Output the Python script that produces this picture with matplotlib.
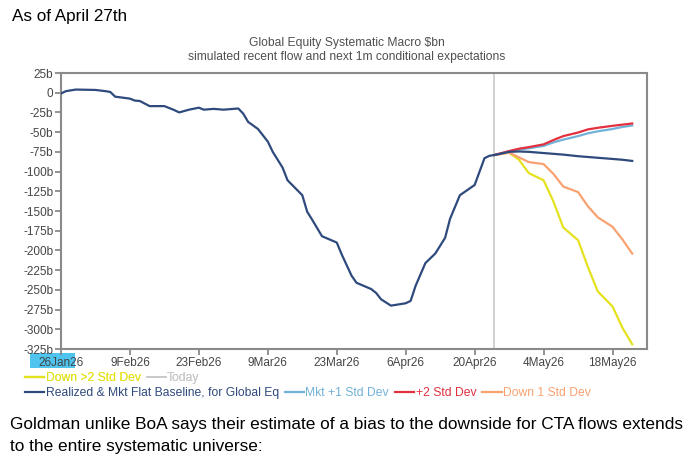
import matplotlib
matplotlib.use('Agg')
import matplotlib.pyplot as plt
from matplotlib.patches import Rectangle
import pandas as pd

plt.rcParams['font.family'] = ['Liberation Sans', 'DejaVu Sans']

# realized flow (Global Eq), $bn
hist_dates = ['2026-01-26', '2026-01-27', '2026-01-29', '2026-02-02', '2026-02-04', '2026-02-05',
              '2026-02-06', '2026-02-09', '2026-02-10', '2026-02-11', '2026-02-13', '2026-02-16',
              '2026-02-18', '2026-02-19', '2026-02-21', '2026-02-23', '2026-02-24', '2026-02-26',
              '2026-02-28', '2026-03-03', '2026-03-04', '2026-03-05', '2026-03-07', '2026-03-09',
              '2026-03-10', '2026-03-11', '2026-03-12', '2026-03-13', '2026-03-16', '2026-03-17',
              '2026-03-18', '2026-03-20', '2026-03-23', '2026-03-24', '2026-03-26', '2026-03-27',
              '2026-03-30', '2026-03-31', '2026-04-01', '2026-04-03', '2026-04-06', '2026-04-07',
              '2026-04-08', '2026-04-10', '2026-04-12', '2026-04-14', '2026-04-15', '2026-04-17',
              '2026-04-20', '2026-04-22', '2026-04-23', '2026-04-24']
hist_vals = [-1, 2, 4, 3.5, 2, 1,
             -5, -7.5, -10, -10.5, -17, -17,
             -22, -25, -21.5, -19, -21.5, -20.5,
             -21.5, -20, -26.5, -37, -46, -62,
             -75, -85, -95, -111, -130, -151,
             -161, -182, -190, -205, -232, -241,
             -249, -254, -262, -270, -267, -264,
             -245, -216, -204, -184, -160, -130,
             -117, -83, -80, -79]

# next 1m conditional expectations
fc_dates = ['2026-04-24', '2026-04-27', '2026-04-29', '2026-05-01', '2026-05-04', '2026-05-06',
            '2026-05-08', '2026-05-11', '2026-05-13', '2026-05-15', '2026-05-18', '2026-05-20',
            '2026-05-22']
baseline = [-79, -75, -74.5, -75, -76.5, -77.5, -78.5, -80.5, -81.5, -82.5, -84, -85, -86.5]
mkt_up1 = [-79, -74.5, -72, -70.5, -67.5, -63, -59.5, -55, -51.5, -49, -46, -43.5, -41.5]
up2 = [-79, -74, -71, -69, -65.5, -60, -55, -50.5, -46.5, -44.5, -42, -40.5, -39]
down1 = [-79, -76, -82, -88, -90.5, -103, -119, -126, -144, -158, -170, -186, -204]
down2 = [-79, -76, -85, -102, -111, -138, -171, -187, -221, -252, -271, -298, -319]

today = '2026-04-24'

xtick_dates = ['2026-01-26', '2026-02-09', '2026-02-23', '2026-03-09', '2026-03-23',
               '2026-04-06', '2026-04-20', '2026-05-04', '2026-05-18']
xtick_labels = ['26Jan26', '9Feb26', '23Feb26', '9Mar26', '23Mar26',
                '6Apr26', '20Apr26', '4May26', '18May26']
ytick_vals = [25, 0, -25, -50, -75, -100, -125, -150, -175, -200, -225, -250, -275, -300, -325]
ytick_labels = ['25b', '0', '-25b', '-50b', '-75b', '-100b', '-125b', '-150b', '-175b',
                '-200b', '-225b', '-250b', '-275b', '-300b', '-325b']

NAVY = '#2f4a7d'
LBLUE = '#72b2d8'
RED = '#e2303f'
ORANGE = '#f9a271'
YELLOW = '#e4e21f'
GREY = '#c9c9c9'

W, H = 697, 459
fig = plt.figure(figsize=(W / 100, H / 100), dpi=100)
ax = fig.add_axes([61 / W, 1 - 349 / H, (647 - 61) / W, (349 - 73) / H])

hd = pd.to_datetime(hist_dates)
fd = pd.to_datetime(fc_dates)

lw = 1.6
l_today = ax.axvline(pd.Timestamp(today), color=GREY, lw=1.2, zorder=1)
l_dn2, = ax.plot(fd, down2, color=YELLOW, lw=lw, zorder=2)
l_dn1, = ax.plot(fd, down1, color=ORANGE, lw=lw, zorder=2)
l_up1, = ax.plot(fd, mkt_up1, color=LBLUE, lw=lw, zorder=3)
l_up2, = ax.plot(fd, up2, color=RED, lw=lw, zorder=4)
l_base, = ax.plot(hd.append(fd[1:]), hist_vals + baseline[1:], color=NAVY, lw=lw, zorder=5)

ax.set_xlim(pd.Timestamp('2026-01-26'), pd.Timestamp('2026-05-25'))
ax.set_ylim(-325, 25)
ax.set_xticks(pd.to_datetime(xtick_dates))
ax.set_xticklabels(xtick_labels)
ax.set_yticks(ytick_vals)
ax.set_yticklabels(ytick_labels)
ax.tick_params(direction='out', length=4, width=1.2, color='#808080',
               labelsize=8.5, labelcolor='#454545', pad=1.5)
for s in ax.spines.values():
    s.set_color('#8a8a8a')
    s.set_linewidth(1.5)

# titles and surrounding text
fig.text(347 / W, 1 - 43 / H, 'Global Equity Systematic Macro $bn', ha='center', va='center',
         fontsize=8.7, color='#505050')
fig.text(347 / W, 1 - 57 / H, 'simulated recent flow and next 1m conditional expectations',
         ha='center', va='center', fontsize=8.7, color='#505050')
fig.text(12 / W, 1 - 17 / H, 'As of April 27th', ha='left', va='center', fontsize=12.3)
fig.text(10 / W, 1 - 425 / H,
         'Goldman unlike BoA says their estimate of a bias to the downside for CTA flows extends',
         ha='left', va='center', fontsize=12.4)
fig.text(10 / W, 1 - 446 / H, 'to the entire systematic universe:', ha='left', va='center',
         fontsize=12.4)

# highlight on the first date label
fig.patches.append(Rectangle((30 / W, 1 - 368 / H), 45 / W, 15 / H, transform=fig.transFigure,
                             facecolor='#4ec4ef', edgecolor='none', zorder=-1))

leg_kw = dict(frameon=False, fontsize=8.7, handlelength=1.6, handletextpad=0.1,
              columnspacing=0.5, borderpad=0, borderaxespad=0, labelcolor='linecolor',
              loc='center left')
leg1 = fig.legend([l_dn2, l_today], ['Down >2 Std Dev', 'Today'], ncol=2,
                  bbox_to_anchor=(25 / W, 1 - 378 / H), **leg_kw)
fig.legend([l_base, l_up1, l_up2, l_dn1],
           ['Realized & Mkt Flat Baseline, for Global Eq', 'Mkt +1 Std Dev', '+2 Std Dev',
            'Down 1 Std Dev'], ncol=4, bbox_to_anchor=(25 / W, 1 - 393 / H), **leg_kw)
fig.add_artist(leg1)

fig.savefig('out.png', dpi=100)
